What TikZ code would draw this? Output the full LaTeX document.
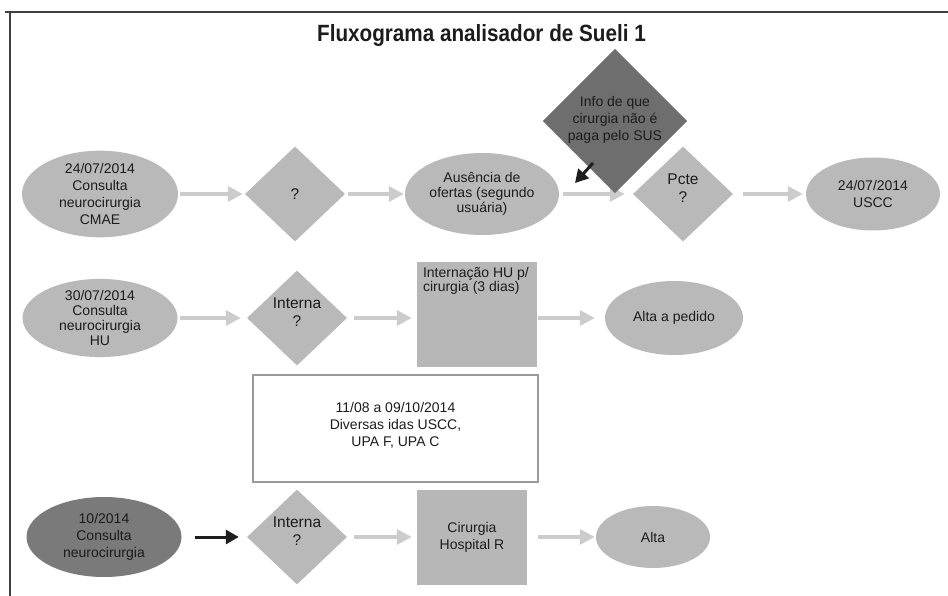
\documentclass[tikz,border=0pt]{standalone}
\usepackage{fontspec}
\setmainfont{Liberation Sans}
\usetikzlibrary{shapes.geometric,arrows.meta}
\definecolor{lg}{HTML}{B9B9B9}
\definecolor{rg}{HTML}{B7B7B7}
\definecolor{dk}{HTML}{6E6E6E}
\definecolor{dke}{HTML}{7A7A7A}
\definecolor{ga}{HTML}{CCCCCC}
\definecolor{ka}{HTML}{1E1E1E}
\definecolor{txt}{HTML}{1C1C1C}
\definecolor{frame}{HTML}{404040}
\definecolor{bord}{HTML}{9A9A9A}
\tikzset{
  base/.style={font=\fontsize{14}{17}\selectfont, text=txt, align=center, inner sep=0pt},
  oval/.style={base, ellipse, fill=lg},
  dia/.style={base, diamond, fill=lg, minimum width=100pt, minimum height=95pt, font=\fontsize{15.5}{18}\selectfont},
  boxg/.style={base, rectangle, fill=rg},
  garrow/.style={draw=ga, line width=3.2pt, -{Triangle[length=15pt,width=15pt]}},
  karrow/.style={draw=ka, line width=3pt, -{Triangle[length=13pt,width=14pt]}},
}
\begin{document}
\begin{tikzpicture}[x=1pt,y=-1pt]
\useasboundingbox (0,0) rectangle (948,596);
\fill[white] (0,0) rectangle (948,596);
% frame
\draw[frame, line width=1.5pt] (5,12) -- (948,12);
\draw[frame, line width=1.5pt] (10,12) -- (10,596);
% title
\node[anchor=base, text=txt, inner sep=0pt] (title) at (481.5,42)
  {\scalebox{0.88}[1]{\fontsize{23.5}{26}\selectfont\bfseries Fluxograma analisador de Sueli 1}};

% row 1
\node[oval, minimum width=156pt, minimum height=82pt] (e1) at (100,194)
  {24/07/2014\\Consulta\\neurocirurgia\\CMAE};
\node[dia] (d1) at (295,194) {?};
\node[oval, minimum width=154pt, minimum height=82pt, font=\fontsize{14}{15}\selectfont] (e2) at (482,194)
  {Ausência de\\ofertas (segundo\\usuária)};
\node[dia] (d2) at (683,194) {Pcte\\?\\[-6pt]\mbox{}};
\node[oval, minimum width=134pt, minimum height=73pt] (e3) at (873,194)
  {24/07/2014\\USCC};

\draw[garrow, shorten <=2pt, shorten >=2pt] (e1.east) -- (d1.west);
\draw[garrow, shorten <=3pt, shorten >=1pt] (d1.east) -- (e2.west);
\draw[garrow, shorten <=4pt, shorten >=8pt] (e2.east) -- (d2.west);
\draw[garrow, shorten <=10pt, shorten >=3pt] (d2.east) -- (e3.west);

\node[base, diamond, fill=dk, minimum width=134pt, minimum height=132pt] (dkd) at (615,121)
  {Info de que\\cirurgia não é\\paga pelo SUS\\[-11pt]\mbox{}};
\coordinate (ks) at (593,163);
\coordinate (ke) at (575,183);
\draw[karrow] (ks) -- (ke);

% row 2
\node[oval, minimum width=155pt, minimum height=75pt, font=\fontsize{14}{15}\selectfont] (e4) at (100,318)
  {30/07/2014\\Consulta\\neurocirurgia\\HU};
\node[dia] (d3) at (297,318) {Interna\\?\\[-6pt]\mbox{}};
\node[boxg, minimum width=120pt, minimum height=105pt] (r1) at (477,314.5)
  {\parbox[c][95pt][t]{108pt}{\raggedright\fontsize{14}{14.5}\selectfont Internação HU p/\\cirurgia (3 dias)}};
\node[oval, minimum width=138pt, minimum height=74pt] (e5) at (674,318) {Alta a pedido};

\draw[garrow, shorten <=2pt, shorten >=6pt] (e4.east) -- (d3.west);
\draw[garrow, shorten <=7pt, shorten >=5pt] (d3.east) -- (d3.east -| r1.west);
\draw[garrow, shorten <=1pt, shorten >=10pt] (r1.east |- e5.west) -- (e5.west);

% white box
\node[base, draw=bord, line width=1.5pt, fill=white, minimum width=285pt, minimum height=107pt] (wb) at (395.5,428.5)
  {11/08 a 09/10/2014\\Diversas idas USCC,\\UPA F, UPA C\\[-8pt]\mbox{}};

% row 3
\node[oval, fill=dke, minimum width=155pt, minimum height=80pt] (e6) at (104,537)
  {10/2014\\Consulta\\neurocirurgia};
\node[dia] (d4) at (297,537) {Interna\\?\\[-6pt]\mbox{}};
\node[boxg, minimum width=110pt, minimum height=95pt] (r2) at (472,537) {Cirurgia\\Hospital R};
\node[oval, minimum width=114pt, minimum height=62pt] (e7) at (653,537) {Alta};

\draw[karrow, shorten <=13pt, shorten >=8pt] (e6.east) -- (d4.west);
\draw[garrow, shorten <=7pt, shorten >=5pt] (d4.east) -- (r2.west);
\draw[garrow, shorten <=11pt, shorten >=1pt] (r2.east) -- (e7.west);
\end{tikzpicture}
\end{document}
